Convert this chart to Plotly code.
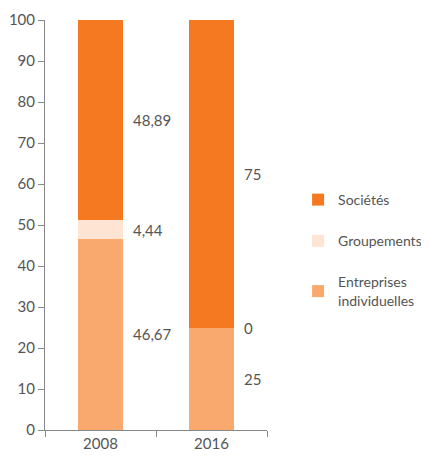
import plotly.graph_objects as go

years = ["2008", "2016"]
societes = [48.89, 75]
groupements = [4.44, 0]
entreprises = [46.67, 25]
y_ticks = [0, 10, 20, 30, 40, 50, 60, 70, 80, 90, 100]

series = [
    ("Entreprises<br>individuelles", entreprises, "#F9A96E"),
    ("Groupements", groupements, "#FDE4D3"),
    ("Sociétés", societes, "#F47920"),
]

def fmt(v):
    s = ("%.2f" % v).rstrip("0").rstrip(".")
    return s.replace(".", ",")

fig = go.Figure()
for i, (name, vals, color) in enumerate(series):
    fig.add_trace(go.Bar(
        x=years, y=vals, name=name, marker_color=color,
        marker_line_width=0, legendgroup=str(i), legendrank=3 - i,
        width=0.405,
    ))

# labels to the right of each segment (category axis -> index positions)
for j, year in enumerate(years):
    base = 0
    for name, vals, color in series:
        v = vals[j]
        fig.add_annotation(
            x=j, y=base + v / 2, text=fmt(v), showarrow=False,
            xanchor="left", xshift=30, font=dict(size=15, color="#555555"),
        )
        base += v

# page body has an 8px margin, so the figure is a bit smaller than the window
font = "Lato, 'Noto Sans', sans-serif"
fig.update_layout(
    barmode="stack",
    width=421, height=448,
    margin=dict(l=37, r=162, t=12, b=26, autoexpand=False),
    plot_bgcolor="white", paper_bgcolor="white",
    font=dict(family=font, size=15, color="#555555"),
    legend=dict(
        x=1.14, y=0.60, xanchor="left", yanchor="top",
        traceorder="grouped", tracegroupgap=20,
        font=dict(size=14, color="#555555"),
        itemwidth=30,
    ),
    xaxis=dict(
        type="category", range=[-0.5, 1.5], automargin=False,
        showline=True, linecolor="#888888", linewidth=1,
        ticks="outside", ticklen=6, tickcolor="#888888",
        tickson="boundaries",
    ),
    yaxis=dict(
        range=[0, 100], tickvals=y_ticks, automargin=False,
        showline=True, linecolor="#888888", linewidth=1,
        ticks="outside", ticklen=6, tickcolor="#888888",
        showgrid=False, zeroline=False,
    ),
)

fig.write_html("out.html")
